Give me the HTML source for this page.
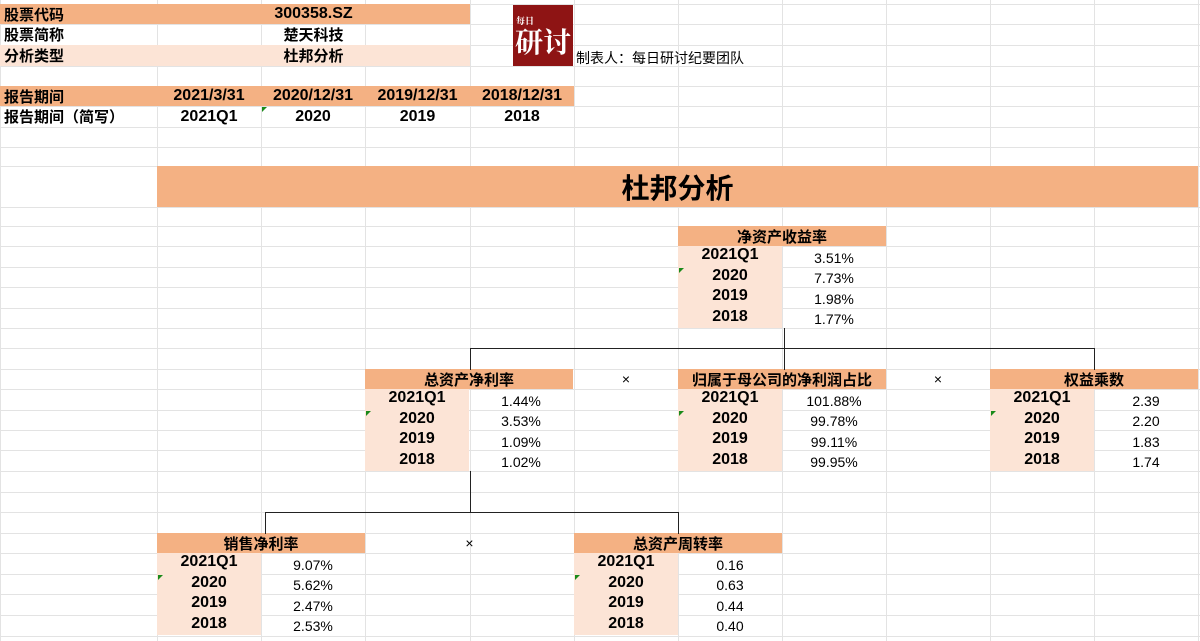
<!DOCTYPE html>
<html><head><meta charset="utf-8">
<style>
body{margin:0;width:1200px;height:641px;overflow:hidden;background:#fff;font-family:"Liberation Sans","Noto Sans CJK SC",sans-serif;position:relative}
.c{position:absolute;box-sizing:border-box;display:flex;align-items:center;justify-content:center;white-space:nowrap;color:#000}
.b{font-weight:bold}
.gl{position:absolute;background:#e3e3e3}
.ln{position:absolute;background:#222}
.tri{position:absolute;width:0;height:0;border-top:5px solid #1a8a1a;border-right:5px solid transparent}
</style></head><body>
<div id="grid"></div>
<script>
const colX=[0,157,261,365,470,574,678,782,886,990,1094,1198];
const rowY=[4,24,45,66,86,106,127,147,166,207,226,246,267,287,308,328,348,369,389,410,430,450,471,492,512,533,553,574,594,615,636];
const g=document.getElementById('grid');
colX.forEach(x=>{const d=document.createElement('div');d.className='gl';d.style.cssText=`left:${x}px;top:0;width:1px;height:641px`;g.appendChild(d);});
rowY.forEach(y=>{const d=document.createElement('div');d.className='gl';d.style.cssText=`left:0;top:${y}px;width:1200px;height:1px`;g.appendChild(d);});
function cell(x1,x2,y1,y2,txt,bg,cls,fs,name){
 const d=document.createElement('div');d.className='c '+(cls||'');
 d.style.cssText=`left:${x1}px;top:${y1}px;width:${x2-x1}px;height:${y2-y1}px;${bg?'background:'+bg+';':''}font-size:${fs||14}px`;
 d.textContent=txt;
 
 
 document.body.appendChild(d);return d;}
const S='#f4b183',L='#fce4d6';
cell(0,470,4,24,'',S,'b',15,'stock-code-row');
cell(4,157,4,24,'股票代码','', 'b',15,'stock-code-label').style.justifyContent='flex-start';
cell(157,470,4,24,'300358.SZ','','b',16,'stock-code-value');
cell(4,157,24,45,'股票简称','','b',15,'stock-name-label').style.justifyContent='flex-start';
cell(157,470,24,45,'楚天科技','','b',15,'stock-name-value');
cell(0,470,45,66,'',L,'',15,'analysis-type-row');
cell(4,157,45,66,'分析类型','','b',15,'analysis-type-label').style.justifyContent='flex-start';
cell(157,470,45,66,'杜邦分析','','b',15,'analysis-type-value');
cell(0,574,86,106,'',S,'',15,'report-period-row');
cell(4,157,86,106,'报告期间','','b',15,'report-period-label').style.justifyContent='flex-start';
const dates=['2021/3/31','2020/12/31','2019/12/31','2018/12/31'];
const periods=['2021Q1','2020','2019','2018'];
dates.forEach((t,i)=>cell(colX[1+i],colX[2+i],86,106,t,'','b',16,'report-date'));
cell(4,157,106,127,'报告期间（简写）','','b',15,'report-period-short-label').style.justifyContent='flex-start';
periods.forEach((t,i)=>cell(colX[1+i],colX[2+i],106,127,t,'','b',16,'report-period-short'));
const lg=document.createElement('div');
lg.style.cssText='position:absolute;left:513px;top:5px;width:60px;height:61px;background:#8e1414;color:#fff;font-family:"Noto Serif CJK SC",serif;font-weight:bold';
lg.innerHTML='<div style="position:absolute;left:3px;top:9px;font-size:9px">每日</div><div style="position:absolute;left:2px;top:20px;font-size:28px;line-height:32px">研讨</div>';


document.body.appendChild(lg);
cell(576,800,47,68,'制表人：每日研讨纪要团队','','',14,'author-note').style.justifyContent='flex-start';
cell(157,1198,166,207,'杜邦分析',S,'b',28,'title-banner');
const boxes=[
 {n:'roe',t:'净资产收益率',x:678,y:226,v:['3.51%','7.73%','1.98%','1.77%']},
 {n:'roa',t:'总资产净利率',x:365,y:369,v:['1.44%','3.53%','1.09%','1.02%']},
 {n:'parent-profit-ratio',t:'归属于母公司的净利润占比',x:678,y:369,v:['101.88%','99.78%','99.11%','99.95%']},
 {n:'equity-multiplier',t:'权益乘数',x:990,y:369,v:['2.39','2.20','1.83','1.74']},
 {n:'net-profit-margin',t:'销售净利率',x:157,y:533,v:['9.07%','5.62%','2.47%','2.53%']},
 {n:'asset-turnover',t:'总资产周转率',x:574,y:533,v:['0.16','0.63','0.44','0.40']}
];
boxes.forEach(b=>{
 cell(b.x,b.x+208,b.y,b.y+20,b.t,S,'b',15,b.n+'-header');
 periods.forEach((p,i)=>{
  const y=b.y+20+i*20.5;
  cell(b.x,b.x+104,y,y+20.5,p,L,'b',16,b.n+'-period').style.alignItems='flex-start';
  cell(b.x+104,b.x+208,y,y+20.5,b.v[i],'','',14,b.n+'-value').style.paddingTop='3px';
 });
 const t=document.createElement('div');t.className='tri';t.style.left=(b.x+1)+'px';t.style.top=(b.y+42)+'px';
 document.body.appendChild(t);
});
const t0=document.createElement('div');t0.className='tri';t0.style.left='262px';t0.style.top='107px';document.body.appendChild(t0);
[[574,678,369],[886,990,369],[365,574,533]].forEach(a=>cell(a[0],a[1],a[2],a[2]+20,'×','','',14,'multiply-sign'));
function ln(x,y,w,h){const d=document.createElement('div');d.className='ln';d.style.cssText=`left:${x}px;top:${y}px;width:${w}px;height:${h}px`;document.body.appendChild(d);}
ln(784,328,1,42);ln(470,348,625,1);ln(470,348,1,22);ln(1094,348,1,22);
ln(470,471,1,42);ln(265,512,414,1);ln(265,512,1,22);ln(678,512,1,22);
</script>
</body></html>
